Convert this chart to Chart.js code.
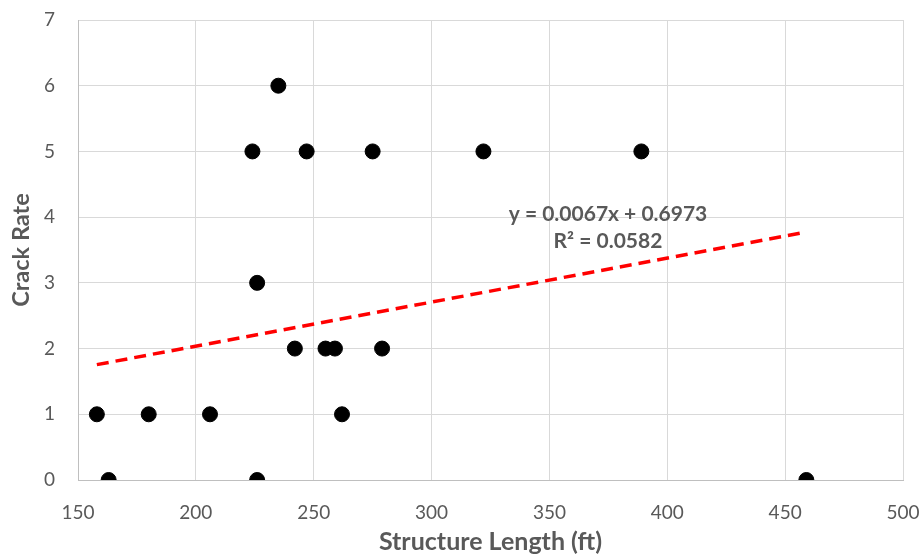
<!DOCTYPE html>
<html>
<head>
<meta charset="utf-8">
<title>Crack Rate vs Structure Length</title>
<script src="https://cdn.jsdelivr.net/npm/chart.js@4.4.1/dist/chart.umd.min.js"></script>
<style>
    html, body { margin: 0; padding: 0; background: #fff; }
    #caja { width: 923px; height: 558px; }
</style>
</head>
<body>
<div id="caja"><canvas id="grafico"></canvas></div>
<script>
/* ----- Datos ----- */
const largos = [158, 163, 180, 206, 224, 226, 226, 235, 242, 247, 255, 259, 262, 275, 279, 322, 389, 459];
const tasas  = [1,   0,   1,   1,   5,   3,   0,   6,   2,   5,   2,   2,   1,   5,   2,   5,   5,   0];

const ticksX = [150, 200, 250, 300, 350, 400, 450, 500];
const ticksY = [0, 1, 2, 3, 4, 5, 6, 7];

// linea de tendencia (valores de la etiqueta)
const pendiente = 0.0067;
const intercepto = 0.6973;
const r2 = 0.0582;

const puntos = largos.map((x, i) => ({ x: x, y: tasas[i] }));
const xMin = Math.min(...largos);
const xMax = Math.max(...largos);
const tendencia = [
    { x: xMin, y: pendiente * xMin + intercepto },
    { x: xMax, y: pendiente * xMax + intercepto }
];

const gris = "#595959";
const fuente = "Lato, 'Open Sans', sans-serif";

/* ----- Etiqueta de la ecuacion ----- */
const etiqueta = {
    id: "etiqueta",
    afterDatasetsDraw(chart) {
        const ctx = chart.ctx;
        ctx.save();
        ctx.fillStyle = gris;
        ctx.font = "bold 21px " + fuente;
        ctx.textAlign = "center";
        ctx.textBaseline = "middle";
        ctx.fillText("y = " + pendiente.toFixed(4) + "x + " + intercepto.toFixed(4), 608, 214);
        ctx.fillText("R² = " + r2.toFixed(4), 608, 241);
        ctx.restore();
    }
};

/* ----- Grafico ----- */
new Chart(document.getElementById("grafico"), {
    type: "scatter",
    data: {
        datasets: [
            {
                label: "Crack Rate",
                data: puntos,
                backgroundColor: "#000",
                borderColor: "#000",
                pointRadius: 7.5,
                pointHoverRadius: 7.5,
                order: 1
            },
            {
                label: "Tendencia",
                type: "line",
                data: tendencia,
                borderColor: "#ff0000",
                borderWidth: 3.5,
                borderDash: [12, 7],
                pointRadius: 0,
                fill: false,
                order: 2
            }
        ]
    },
    options: {
        responsive: true,
        maintainAspectRatio: false,
        animation: false,
        layout: { padding: { top: 20, right: 20, left: 0, bottom: 0 } },
        plugins: {
            legend: { display: false },
            tooltip: { enabled: false }
        },
        scales: {
            x: {
                type: "linear",
                min: 150,
                max: 500,
                afterBuildTicks: s => { s.ticks = ticksX.map(v => ({ value: v })); },
                afterFit: s => { s.height = 78; s.paddingLeft = 0; s.paddingRight = 0; },
                grid: { color: "#d9d9d9", lineWidth: 1, drawTicks: false },
                border: { color: "#bfbfbf", width: 1 },
                ticks: { color: gris, font: { family: fuente, size: 19 }, padding: 21, maxRotation: 0 },
                title: {
                    display: true,
                    text: "Structure Length (ft)",
                    color: gris,
                    font: { family: fuente, size: 25, weight: "bold", lineHeight: 1 },
                    padding: { top: 0, bottom: 4 }
                }
            },
            y: {
                min: 0,
                max: 7,
                afterBuildTicks: s => { s.ticks = ticksY.map(v => ({ value: v })); },
                afterFit: s => { s.width = 78; s.paddingTop = 0; s.paddingBottom = 0; },
                grid: { color: "#d9d9d9", lineWidth: 1, drawTicks: false },
                border: { color: "#bfbfbf", width: 1 },
                ticks: { color: gris, font: { family: fuente, size: 19 }, padding: 23 },
                title: {
                    display: true,
                    text: "Crack Rate",
                    color: gris,
                    font: { family: fuente, size: 23.5, weight: "bold", lineHeight: 1.2 },
                    padding: { top: 7, bottom: 0 }
                }
            }
        }
    },
    plugins: [etiqueta]
});
</script>
</body>
</html>
